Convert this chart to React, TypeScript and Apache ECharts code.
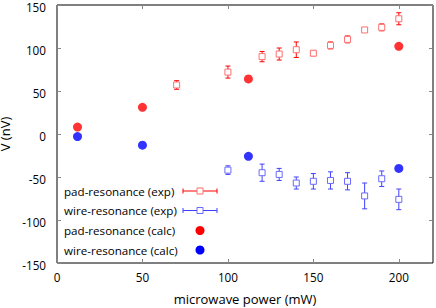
import React, { useEffect, useRef } from "react";
import * as echarts from "echarts";

const padExpX = [70, 100, 120, 130, 140, 150, 160, 170, 180, 190, 200];
const padExpY = [57, 72, 90, 93, 98, 94, 103, 110, 121, 124, 134];
const padExpErr = [5, 7, 6, 7, 9, 3, 4, 4, 2, 4, 7];

const wireExpX = [100, 120, 130, 140, 150, 160, 170, 180, 190, 200];
const wireExpY = [-42, -45, -47, -57, -55, -54, -55, -72, -52, -76];
const wireExpErr = [5, 10, 7, 7, 9, 10, 10, 15, 9, 12];

const calcX = [12, 50, 112, 200];
const padCalcY = [8, 31, 64, 102];
const wireCalcY = [-3, -13, -26, -40];

const xTicks = [0, 50, 100, 150, 200];
const yTicks = [-150, -100, -50, 0, 50, 100, 150];

const legendLabels = [
  "pad-resonance (exp)",
  "wire-resonance (exp)",
  "pad-resonance (calc)",
  "wire-resonance (calc)",
];

const FONT = "Open Sans";

function errSeries(name: string, xs: number[], ys: number[], es: number[], sq: string, bar: string) {
  return {
    type: "custom",
    name,
    xAxisIndex: 0,
    yAxisIndex: 0,
    data: xs.map((x, i) => [x, ys[i], es[i]]),
    renderItem: (params: any, api: any) => {
      const x = api.value(0);
      const y = api.value(1);
      const e = api.value(2);
      const c = api.coord([x, y]);
      const lo = api.coord([x, y - e]);
      const hi = api.coord([x, y + e]);
      const cap = 2.5;
      const s = 6;
      return {
        type: "group",
        children: [
          { type: "line", shape: { x1: c[0], y1: lo[1], x2: c[0], y2: hi[1] }, style: { stroke: bar, lineWidth: 1 } },
          { type: "line", shape: { x1: c[0] - cap, y1: lo[1], x2: c[0] + cap, y2: lo[1] }, style: { stroke: bar, lineWidth: 1 } },
          { type: "line", shape: { x1: c[0] - cap, y1: hi[1], x2: c[0] + cap, y2: hi[1] }, style: { stroke: bar, lineWidth: 1 } },
          { type: "rect", shape: { x: c[0] - s / 2, y: c[1] - s / 2, width: s, height: s }, style: { fill: "#fff", stroke: sq, lineWidth: 1 } },
        ],
      };
    },
  };
}

export default function App() {
  const ref = useRef<HTMLDivElement>(null);
  useEffect(() => {
    if (!ref.current) return;
    const chart = echarts.init(ref.current, null, { renderer: "svg" });
    const tickStyle = { show: true, inside: true, length: 4, lineStyle: { color: "#888", width: 1 } };
    const labelStyle = { fontFamily: FONT, fontSize: 11.7, color: "#000" };
    const rowY = [191, 210.5, 230.5, 250];
    const graphics: any[] = [];
    legendLabels.forEach((t, i) => {
      graphics.push({
        type: "text",
        x: 64,
        y: rowY[i],
        style: { text: t, fontFamily: FONT, fontSize: 11.6, fill: "#000", align: "left", verticalAlign: "middle" },
      });
    });
    const legColors = [
      ["#ff0000", "#ff7070"],
      ["#4040ff", "#6a6aff"],
    ];
    [0, 1].forEach((i) => {
      const y = rowY[i];
      const [bar, sq] = legColors[i];
      graphics.push({ type: "line", shape: { x1: 183, y1: y, x2: 217, y2: y }, style: { stroke: bar, lineWidth: 1 } });
      graphics.push({ type: "line", shape: { x1: 183, y1: y - 2.5, x2: 183, y2: y + 2.5 }, style: { stroke: bar, lineWidth: 1 } });
      graphics.push({ type: "line", shape: { x1: 217, y1: y - 2.5, x2: 217, y2: y + 2.5 }, style: { stroke: bar, lineWidth: 1 } });
      graphics.push({ type: "rect", shape: { x: 197, y: y - 3, width: 6, height: 6 }, style: { fill: "#fff", stroke: sq, lineWidth: 1 } });
    });
    graphics.push({ type: "circle", shape: { cx: 200, cy: rowY[2], r: 4.5 }, style: { fill: "#ff0000" } });
    graphics.push({ type: "circle", shape: { cx: 200, cy: rowY[3], r: 4.5 }, style: { fill: "#0000ff" } });

    const fmt = (ticks: number[]) => (v: number) => (ticks.includes(v) ? String(v) : "");

    chart.setOption({
      animation: false,
      backgroundColor: "#fff",
      grid: {
        left: 57, right: 3, top: 5, bottom: 45, show: true, borderColor: "#000", borderWidth: 1,
        containLabel: false, outerBoundsMode: "none",
      },
      xAxis: [
        {
          type: "value", min: 0, max: 220, interval: 50, position: "bottom",
          axisLine: { show: false, onZero: false }, axisTick: tickStyle, splitLine: { show: false },
          axisLabel: { ...labelStyle, lineHeight: 12, margin: 8, formatter: fmt(xTicks) },
          name: "microwave power (mW)", nameLocation: "middle", nameGap: 29,
          nameTextStyle: { fontFamily: FONT, fontSize: 13, color: "#000" },
        },
        {
          type: "value", min: 0, max: 220, interval: 50, position: "top",
          axisLine: { show: false, onZero: false }, axisTick: tickStyle, splitLine: { show: false },
          axisLabel: { show: false },
        },
      ],
      yAxis: [
        {
          type: "value", min: -150, max: 150, interval: 50, position: "left",
          axisLine: { show: false, onZero: false }, axisTick: tickStyle, splitLine: { show: false },
          axisLabel: { ...labelStyle, lineHeight: 3, verticalAlign: "top", margin: 11, formatter: fmt(yTicks) },
          name: "V (nV)", nameLocation: "middle", nameGap: 38,
          nameTextStyle: { fontFamily: FONT, fontSize: 13, lineHeight: 13, color: "#000" },
        },
        {
          type: "value", min: -150, max: 150, interval: 50, position: "right",
          axisLine: { show: false, onZero: false }, axisTick: tickStyle, splitLine: { show: false },
          axisLabel: { show: false },
        },
      ],
      series: [
        errSeries("pad-resonance (exp)", padExpX, padExpY, padExpErr, "#ff7070", "#ff0000"),
        errSeries("wire-resonance (exp)", wireExpX, wireExpY, wireExpErr, "#6a6aff", "#4040ff"),
        {
          type: "scatter", name: "pad-resonance (calc)", symbol: "circle", symbolSize: 9,
          itemStyle: { color: "#ff0000" }, data: calcX.map((x, i) => [x, padCalcY[i]]),
        },
        {
          type: "scatter", name: "wire-resonance (calc)", symbol: "circle", symbolSize: 9,
          itemStyle: { color: "#0000ff" }, data: calcX.map((x, i) => [x, wireCalcY[i]]),
        },
      ],
      graphic: graphics,
    });
    return () => chart.dispose();
  }, []);
  return <div ref={ref} style={{ width: 436, height: 308, position: "absolute", left: 0, top: 0 }} />;
}
